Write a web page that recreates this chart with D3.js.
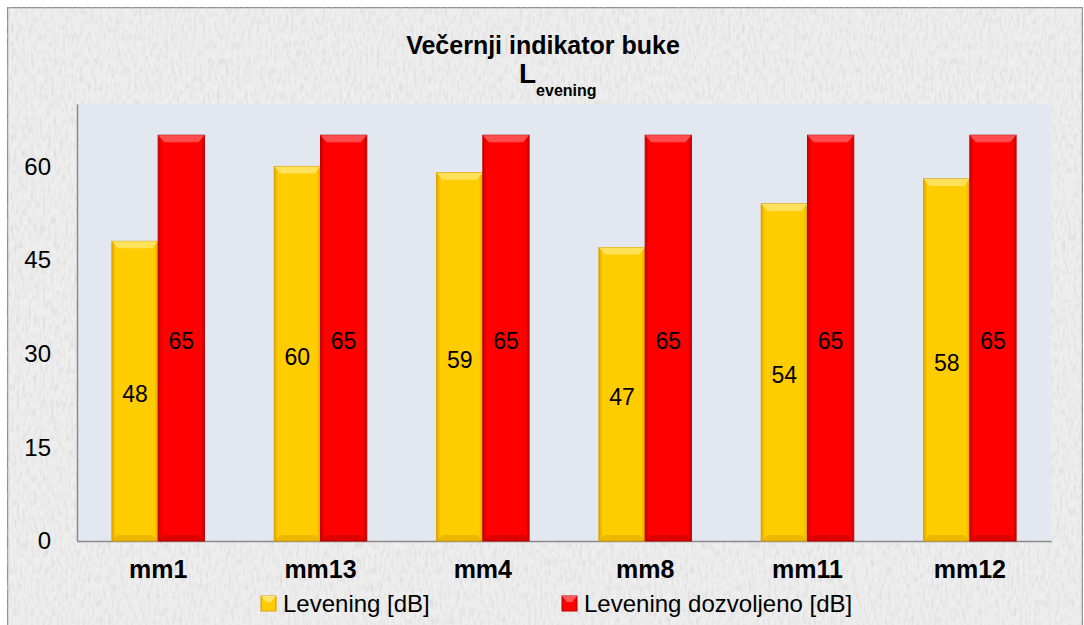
<!DOCTYPE html>
<html><head><meta charset="utf-8">
<script src="https://cdn.jsdelivr.net/npm/d3@7"></script>
<style>body{margin:0;background:#fff}svg{display:block}</style>
</head><body>
<svg id="c" width="1084" height="625"></svg>
<script>
const categories = ["mm1","mm13","mm4","mm8","mm11","mm12"];
const levening = [48,60,59,47,54,58];
const dozvoljeno = [65,65,65,65,65,65];
const seriesNames = ["Levening [dB]","Levening dozvoljeno [dB]"];
const yTicks = [0,15,30,45,60];

const svg = d3.select("#c");
const defs = svg.append("defs");
const f = defs.append("filter").attr("id","tex").attr("x",0).attr("y",0).attr("width","100%").attr("height","100%");
f.append("feTurbulence").attr("type","fractalNoise").attr("baseFrequency","0.35 0.12").attr("numOctaves",3).attr("seed",4).attr("result","n");
f.append("feColorMatrix").attr("in","n").attr("type","matrix")
 .attr("values","0 0 0 0 0.6  0 0 0 0 0.6  0 0 0 0 0.6  1.1 0 0 0 -0.45").attr("result","m");
f.append("feComposite").attr("in","m").attr("in2","SourceGraphic").attr("operator","atop");

function grad(id, c1, c2){
  const g = defs.append("linearGradient").attr("id",id).attr("x1",0).attr("x2",1).attr("y1",0).attr("y2",0);
  g.append("stop").attr("offset","0").attr("stop-color",c2);
  g.append("stop").attr("offset","0.08").attr("stop-color",c1);
  g.append("stop").attr("offset","0.92").attr("stop-color",c1);
  g.append("stop").attr("offset","1").attr("stop-color",c2);
}
grad("gy","#ffcc00","#e0a400");
grad("gr","#ff0000","#c80000");

// background
svg.append("rect").attr("x",7.5).attr("y",7.5).attr("width",1075).attr("height",630)
  .attr("fill","#eeeeee").attr("stroke","#8c8c8c").attr("stroke-width",1.5).attr("filter","url(#tex)");

const m = {l:77, r:1051, t:104, b:541};
const x0 = d3.scaleBand().domain(categories).range([m.l,m.r]).paddingInner(0.43).paddingOuter(0.215);
const x1 = d3.scaleBand().domain([0,1]).range([0,x0.bandwidth()]);
const y = d3.scaleLinear().domain([0,70]).range([m.b,m.t]);

svg.append("rect").attr("x",m.l).attr("y",m.t).attr("width",m.r-m.l).attr("height",m.b-m.t).attr("fill","#e3e7ef");

const font = "'Liberation Sans', Arial, sans-serif";

// axes
const ya = svg.append("g").attr("transform",`translate(${m.l},0)`).call(d3.axisLeft(y).tickValues(yTicks).tickSize(0).tickPadding(26));
ya.select(".domain").attr("stroke","#8a8a8a").attr("stroke-width",1.5);
ya.selectAll("text").attr("font-family",font).attr("font-size",24).attr("fill","#000");
const xa = svg.append("g").attr("transform",`translate(0,${m.b})`).call(d3.axisBottom(x0).tickSize(0).tickPadding(19));
xa.select(".domain").attr("stroke","#8a8a8a").attr("stroke-width",1.5);
xa.selectAll("text").attr("font-family",font).attr("font-size",25).attr("font-weight","bold").attr("fill","#000");

const data = categories.map((c,i)=>({c, v:[levening[i],dozvoljeno[i]]}));
const fills = ["url(#gy)","url(#gr)"];
const tops = ["#ffe46a","#ff5a5a"];
const edges = ["#d9a200","#bb0000"];
const g = svg.append("g");
data.forEach(d=>{
  d.v.forEach((v,k)=>{
    const bx = x0(d.c)+x1(k), bw = x1.bandwidth(), by = y(v), bh = y(0)-y(v);
    g.append("rect").attr("x",bx).attr("y",by).attr("width",bw).attr("height",bh)
      .attr("fill",fills[k]).attr("stroke",edges[k]).attr("stroke-width",1);
    g.append("path").attr("d",`M${bx},${by}L${bx+bw},${by}L${bx+bw-6},${by+7}L${bx+6},${by+7}Z`).attr("fill",tops[k]).attr("opacity",0.85);
    g.append("path").attr("d",`M${bx},${y(0)}L${bx+bw},${y(0)}L${bx+bw-6},${y(0)-6}L${bx+6},${y(0)-6}Z`).attr("fill",edges[k]).attr("opacity",0.5);
    g.append("text").attr("x",bx+bw/2).attr("y",(by+y(0))/2+11).attr("text-anchor","middle")
      .attr("font-family",font).attr("font-size",23).attr("fill","#000").text(v);
  });
});

// title
svg.append("text").attr("x",543).attr("y",54).attr("text-anchor","middle").attr("font-family",font)
  .attr("font-size",25).attr("font-weight","bold").text("Večernji indikator buke");
const t2 = svg.append("text").attr("x",519).attr("y",83).attr("text-anchor","start").attr("font-family",font).attr("font-weight","bold");
t2.append("tspan").attr("font-size",28).text("L");
t2.append("tspan").attr("font-size",16).attr("dy",13).text("evening");

// legend
const lx = [261,562];
seriesNames.forEach((n,k)=>{
  svg.append("rect").attr("x",lx[k]).attr("y",596).attr("width",15).attr("height",15).attr("fill",fills[k]).attr("stroke",edges[k]);
  svg.append("path").attr("d",`M${lx[k]},596L${lx[k]+15},596L${lx[k]+10},602L${lx[k]+5},602Z`).attr("fill",tops[k]);
  svg.append("text").attr("x",lx[k]+22).attr("y",612).attr("font-family",font).attr("font-size",24).attr("fill","#000").text(n);
});
</script>
</body></html>
